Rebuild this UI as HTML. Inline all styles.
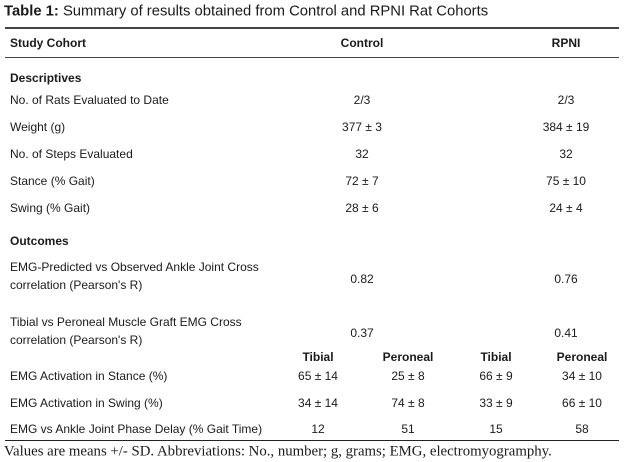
<!DOCTYPE html>
<html><head><meta charset="utf-8"><style>
body{margin:0;width:624px;height:462px;background:#fff;position:relative;overflow:hidden;font-family:"Liberation Sans",sans-serif;color:#1a1a1a}
.t{position:absolute;font-size:12px;white-space:nowrap;transform:translateY(-50%);line-height:1}
.c{transform:translate(-50%,-50%)}
.b{font-weight:bold}
.rule{position:absolute;left:5px;width:614px;background:#444}
</style></head><body>
<div class="t" style="left:4px;top:12px;font-size:14.8px"><b>Table 1:</b> Summary of results obtained from Control and RPNI Rat Cohorts</div>
<div class="rule" style="top:27px;height:2px"></div>
<div class="t b" style="left:10px;top:43px">Study Cohort</div>
<div class="t b c" style="left:362px;top:43px">Control</div>
<div class="t b c" style="left:566px;top:43px">RPNI</div>
<div class="rule" style="top:57px;height:1px"></div>

<div class="t b" style="left:10px;top:78px">Descriptives</div>
<div class="t" style="left:10px;top:100px">No. of Rats Evaluated to Date</div>
<div class="t c" style="left:362px;top:100px">2/3</div>
<div class="t c" style="left:566px;top:100px">2/3</div>
<div class="t" style="left:10px;top:127px">Weight (g)</div>
<div class="t c" style="left:362px;top:127px">377 ± 3</div>
<div class="t c" style="left:566px;top:127px">384 ± 19</div>
<div class="t" style="left:10px;top:154px">No. of Steps Evaluated</div>
<div class="t c" style="left:362px;top:154px">32</div>
<div class="t c" style="left:566px;top:154px">32</div>
<div class="t" style="left:10px;top:181px">Stance (% Gait)</div>
<div class="t c" style="left:362px;top:181px">72 ± 7</div>
<div class="t c" style="left:566px;top:181px">75 ± 10</div>
<div class="t" style="left:10px;top:208px">Swing (% Gait)</div>
<div class="t c" style="left:362px;top:208px">28 ± 6</div>
<div class="t c" style="left:566px;top:208px">24 ± 4</div>

<div class="t b" style="left:10px;top:241px">Outcomes</div>
<div class="t" style="left:10px;top:267px">EMG-Predicted vs Observed Ankle Joint Cross</div>
<div class="t" style="left:10px;top:285px">correlation (Pearson's R)</div>
<div class="t c" style="left:362px;top:279px">0.82</div>
<div class="t c" style="left:566px;top:279px">0.76</div>
<div class="t" style="left:10px;top:322px">Tibial vs Peroneal Muscle Graft EMG Cross</div>
<div class="t" style="left:10px;top:340px">correlation (Pearson's R)</div>
<div class="t c" style="left:362px;top:333px">0.37</div>
<div class="t c" style="left:566px;top:333px">0.41</div>

<div class="t b c" style="left:318px;top:357px">Tibial</div>
<div class="t b c" style="left:408px;top:357px">Peroneal</div>
<div class="t b c" style="left:496px;top:357px">Tibial</div>
<div class="t b c" style="left:582px;top:357px">Peroneal</div>

<div class="t" style="left:10px;top:376px">EMG Activation in Stance (%)</div>
<div class="t c" style="left:318px;top:376px">65 ± 14</div>
<div class="t c" style="left:408px;top:376px">25 ± 8</div>
<div class="t c" style="left:496px;top:376px">66 ± 9</div>
<div class="t c" style="left:582px;top:376px">34 ± 10</div>
<div class="t" style="left:10px;top:403px">EMG Activation in Swing (%)</div>
<div class="t c" style="left:318px;top:403px">34 ± 14</div>
<div class="t c" style="left:408px;top:403px">74 ± 8</div>
<div class="t c" style="left:496px;top:403px">33 ± 9</div>
<div class="t c" style="left:582px;top:403px">66 ± 10</div>
<div class="t" style="left:10px;top:429px">EMG vs Ankle Joint Phase Delay (% Gait Time)</div>
<div class="t c" style="left:318px;top:429px">12</div>
<div class="t c" style="left:408px;top:429px">51</div>
<div class="t c" style="left:496px;top:429px">15</div>
<div class="t c" style="left:582px;top:429px">58</div>
<div class="rule" style="top:440px;height:1px;background:#222"></div>
<div class="t" style="left:4px;top:452px;font-family:'Liberation Serif',serif;font-size:14.8px">Values are means +/- SD. Abbreviations: No., number; g, grams; EMG, electromyogramphy.</div>
</body></html>
